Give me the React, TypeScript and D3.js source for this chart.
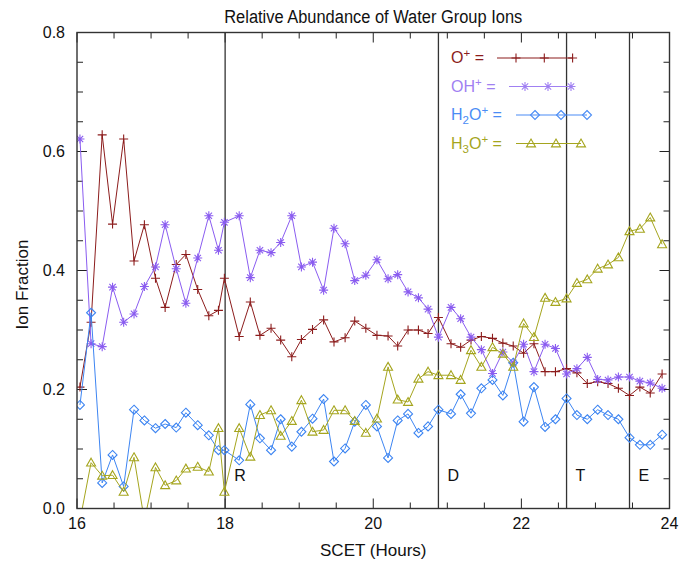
import React from "react";
import * as d3 from "d3";

const TITLE = "Relative Abundance of Water Group Ions";
const X_LABEL = "SCET (Hours)";
const Y_LABEL = "Ion Fraction";
const X_TICKS = [16, 18, 20, 22, 24];
const Y_TICKS = [0.0, 0.2, 0.4, 0.6, 0.8];
const Y_TICK_LABELS = ["0.0", "0.2", "0.4", "0.6", "0.8"];

const TIMES = [16.04, 16.19, 16.34, 16.48, 16.63, 16.77, 16.91, 17.06, 17.19, 17.34, 17.47, 17.63, 17.78, 17.91, 17.99,
  18.19, 18.34, 18.47, 18.62, 18.75, 18.90, 19.03, 19.18, 19.33, 19.47, 19.62, 19.75, 19.90, 20.05, 20.20, 20.33,
  20.47, 20.61, 20.74, 20.88, 21.05, 21.18, 21.32, 21.46, 21.61, 21.75, 21.89, 22.03, 22.17, 22.32, 22.46, 22.61,
  22.75, 22.89, 23.03, 23.17, 23.31, 23.46, 23.60, 23.74, 23.90];

const O_PLUS = [0.204, 0.313, 0.628, 0.478, 0.621, 0.416, 0.477, 0.387, 0.338, 0.410, 0.427, 0.368, 0.324, 0.333, 0.387,
  0.289, 0.347, 0.291, 0.303, 0.283, 0.255, 0.284, 0.301, 0.317, 0.280, 0.287, 0.315, 0.303, 0.291, 0.290, 0.273,
  0.300, 0.300, 0.294, 0.321, 0.277, 0.271, 0.283, 0.289, 0.286, 0.278, 0.273, 0.261, 0.277, 0.230, 0.230, 0.235,
  0.228, 0.210, 0.213, 0.210, 0.202, 0.190, 0.204, 0.194, 0.226];

const OH_PLUS = [0.621, 0.277, 0.272, 0.372, 0.313, 0.327, 0.373, 0.406, 0.477, 0.403, 0.345, 0.421, 0.492, 0.434, 0.481,
  0.492, 0.388, 0.434, 0.430, 0.447, 0.492, 0.406, 0.414, 0.367, 0.471, 0.445, 0.383, 0.392, 0.418, 0.386, 0.393,
  0.364, 0.354, 0.335, 0.288, 0.338, 0.319, 0.288, 0.267, 0.227, 0.263, 0.245, 0.276, 0.230, 0.276, 0.269, 0.226,
  0.235, 0.254, 0.217, 0.216, 0.221, 0.221, 0.214, 0.211, 0.202];

const H2O_PLUS = [0.174, 0.329, 0.043, 0.090, 0.037, 0.166, 0.148, 0.135, 0.142, 0.136, 0.161, 0.140, 0.123, 0.098, 0.098,
  0.081, 0.175, 0.118, 0.098, 0.150, 0.104, 0.129, 0.151, 0.184, 0.079, 0.101, 0.146, 0.174, 0.138, 0.085, 0.148,
  0.159, 0.127, 0.138, 0.166, 0.159, 0.192, 0.160, 0.202, 0.216, 0.190, 0.245, 0.146, 0.204, 0.137, 0.150, 0.185,
  0.157, 0.150, 0.166, 0.157, 0.150, 0.119, 0.107, 0.107, 0.124];

const H3O_PLUS = [-0.02, 0.077, 0.055, 0.056, 0.028, 0.086, -0.02, 0.069, 0.039, 0.047, 0.067, 0.070, 0.062, 0.135, 0.028,
  0.135, 0.087, 0.157, 0.165, 0.122, 0.147, 0.182, 0.129, 0.132, 0.165, 0.165, 0.147, 0.127, 0.151, 0.238, 0.183,
  0.179, 0.218, 0.230, 0.224, 0.224, 0.216, 0.266, 0.238, 0.271, 0.260, 0.238, 0.311, 0.288, 0.354, 0.347, 0.353,
  0.379, 0.385, 0.403, 0.410, 0.422, 0.466, 0.470, 0.489, 0.444];

const EVENT_TIMES = [18.0, 20.88, 22.61, 23.46];
const EVENT_LABELS = ["R", "D", "T", "E"];

type Part = { t: string; k?: "sup" | "sub" };
const SERIES = [
  { name: [{ t: "O" }, { t: "+", k: "sup" }, { t: " =" }] as Part[], values: O_PLUS, color: "#8c1c1c", legendColor: "#8c1c1c", marker: "plus" },
  { name: [{ t: "OH" }, { t: "+", k: "sup" }, { t: " =" }] as Part[], values: OH_PLUS, color: "#8a5cf0", legendColor: "#a080f2", marker: "star" },
  { name: [{ t: "H" }, { t: "2", k: "sub" }, { t: "O" }, { t: "+", k: "sup" }, { t: " =" }] as Part[], values: H2O_PLUS, color: "#3d85f2", legendColor: "#4a8cf5", marker: "diamond" },
  { name: [{ t: "H" }, { t: "3", k: "sub" }, { t: "O" }, { t: "+", k: "sup" }, { t: " =" }] as Part[], values: H3O_PLUS, color: "#a5a51e", legendColor: "#a5a51e", marker: "triangle" },
];

// layout
const W = 690, H = 564;
const PL = 77, PR = 669.5, PT = 32.5, PB = 508.5;
const FONT = "'Liberation Sans', Arial, Helvetica, sans-serif";
const LEGEND_X = 451, LEGEND_Y0 = 63, LEGEND_DY = 28.5;
const LEGEND_SAMPLE = [
  { start: 497, first: 516, step: 28.3 },
  { start: 509, first: 525, step: 23 },
  { start: 516, first: 535, step: 26 },
  { start: 516, first: 531, step: 25 },
];

function markerPath(kind: string): string {
  const s = 4.5;
  switch (kind) {
    case "plus":
      return `M${-s},0H${s}M0,${-s}V${s}`;
    case "star": {
      const d = 3.2;
      return `M${-s},0H${s}M0,${-s}V${s}M${-d},${-d}L${d},${d}M${-d},${d}L${d},${-d}`;
    }
    case "diamond":
      return `M0,${-s}L${s},0L0,${s}L${-s},0Z`;
    default:
      return `M0,${-s}L${s},${s * 0.75}L${-s},${s * 0.75}Z`;
  }
}

function Label({ parts, x, y, color, size }: { parts: Part[]; x: number; y: number; color: string; size: number }) {
  let shift = 0;
  return (
    <text x={x} y={y} fill={color} fontSize={size} fontFamily={FONT}>
      {parts.map((p, i) => {
        const target = p.k === "sup" ? -6 : p.k === "sub" ? 4 : 0;
        const dy = target - shift;
        shift = target;
        return (
          <tspan key={i} dy={dy} fontSize={p.k ? size * 0.72 : size}>
            {p.t}
          </tspan>
        );
      })}
    </text>
  );
}

export default function App() {
  const x = d3.scaleLinear().domain([16, 24]).range([PL, PR]);
  const y = d3.scaleLinear().domain([0, 0.8]).range([PB, PT]);
  const xMinor = d3.range(16, 24.001, 0.5);
  const yMinor = d3.range(0, 0.8001, 0.05);
  const isMajorX = (v: number) => Math.abs(v / 2 - Math.round(v / 2)) < 1e-6;
  const isMajorY = (v: number) => Math.abs(v / 0.2 - Math.round(v / 0.2)) < 1e-6;
  const line = d3
    .line<number>()
    .x((_, i) => x(TIMES[i]))
    .y((d) => y(d));

  return (
    <svg width={W} height={H} style={{ position: "absolute", left: 0, top: 0, background: "#fff" }}>
      <defs>
        <clipPath id="plotclip">
          <rect x={PL} y={PT} width={PR - PL} height={PB - PT} />
        </clipPath>
      </defs>
      <rect width={W} height={H} fill="#fff" />
      <text
        x={(PL + PR) / 2}
        y={23}
        textAnchor="middle"
        fontSize={18}
        fontFamily={FONT}
        fill="#111"
        textLength={298}
        lengthAdjust="spacingAndGlyphs"
      >
        {TITLE}
      </text>

      {/* ticks */}
      <g stroke="#222" strokeWidth={1}>
        {xMinor.map((v, i) => {
          const len = isMajorX(v) ? 10 : 6;
          return (
            <g key={"xt" + i}>
              <line x1={x(v)} x2={x(v)} y1={PB} y2={PB - len} />
              <line x1={x(v)} x2={x(v)} y1={PT} y2={PT + len} />
            </g>
          );
        })}
        {yMinor.map((v, i) => {
          const len = isMajorY(v) ? 10 : 6;
          return (
            <g key={"yt" + i}>
              <line x1={PL} x2={PL + len} y1={y(v)} y2={y(v)} />
              <line x1={PR} x2={PR - len} y1={y(v)} y2={y(v)} />
            </g>
          );
        })}
      </g>

      {/* event lines */}
      {EVENT_TIMES.map((t, i) => (
        <g key={"ev" + i}>
          <line x1={x(t)} x2={x(t)} y1={PT} y2={PB} stroke="#333" strokeWidth={1.3} />
          <text x={x(t) + 9} y={481} fontSize={16} fontFamily={FONT} fill="#111">
            {EVENT_LABELS[i]}
          </text>
        </g>
      ))}

      {/* series */}
      <g clipPath="url(#plotclip)">
        {SERIES.map((s, si) => (
          <g key={"s" + si}>
            <path d={line(s.values) || ""} fill="none" stroke={s.color} strokeWidth={1} />
            {s.values.map((v, i) => (
              <path
                key={i}
                d={markerPath(s.marker)}
                transform={`translate(${x(TIMES[i])},${y(v)})`}
                fill="none"
                stroke={s.color}
                strokeWidth={1.1}
              />
            ))}
          </g>
        ))}
      </g>

      {/* frame */}
      <rect x={PL} y={PT} width={PR - PL} height={PB - PT} fill="none" stroke="#333" strokeWidth={1.4} />

      {/* axis labels */}
      {X_TICKS.map((v, i) => (
        <text key={"xl" + i} x={x(v)} y={529} textAnchor="middle" fontSize={16} fontFamily={FONT} fill="#111">
          {String(v)}
        </text>
      ))}
      {Y_TICKS.map((v, i) => (
        <text key={"yl" + i} x={65} y={y(v) + 5.5} textAnchor="end" fontSize={16} fontFamily={FONT} fill="#111">
          {Y_TICK_LABELS[i]}
        </text>
      ))}
      <text x={(PL + PR) / 2} y={556} textAnchor="middle" fontSize={17} fontFamily={FONT} fill="#111">
        {X_LABEL}
      </text>
      <text
        transform={`translate(28,${(PT + PB) / 2 + 14}) rotate(-90)`}
        textAnchor="middle"
        fontSize={17}
        fontFamily={FONT}
        fill="#111"
      >
        {Y_LABEL}
      </text>

      {/* legend */}
      {SERIES.map((s, i) => {
        const ly = LEGEND_Y0 + i * LEGEND_DY;
        const L = LEGEND_SAMPLE[i];
        const mx = [0, 1, 2].map((k) => L.first + k * L.step);
        return (
          <g key={"lg" + i}>
            <Label parts={s.name} x={LEGEND_X} y={ly} color={s.legendColor} size={16} />
            <line x1={L.start} x2={mx[2]} y1={ly - 5} y2={ly - 5} stroke={s.legendColor} strokeWidth={1.1} />
            {mx.map((m, k) => (
              <path
                key={k}
                d={markerPath(s.marker)}
                transform={`translate(${m},${ly - 5})`}
                fill="none"
                stroke={s.legendColor}
                strokeWidth={1.1}
              />
            ))}
          </g>
        );
      })}
    </svg>
  );
}
